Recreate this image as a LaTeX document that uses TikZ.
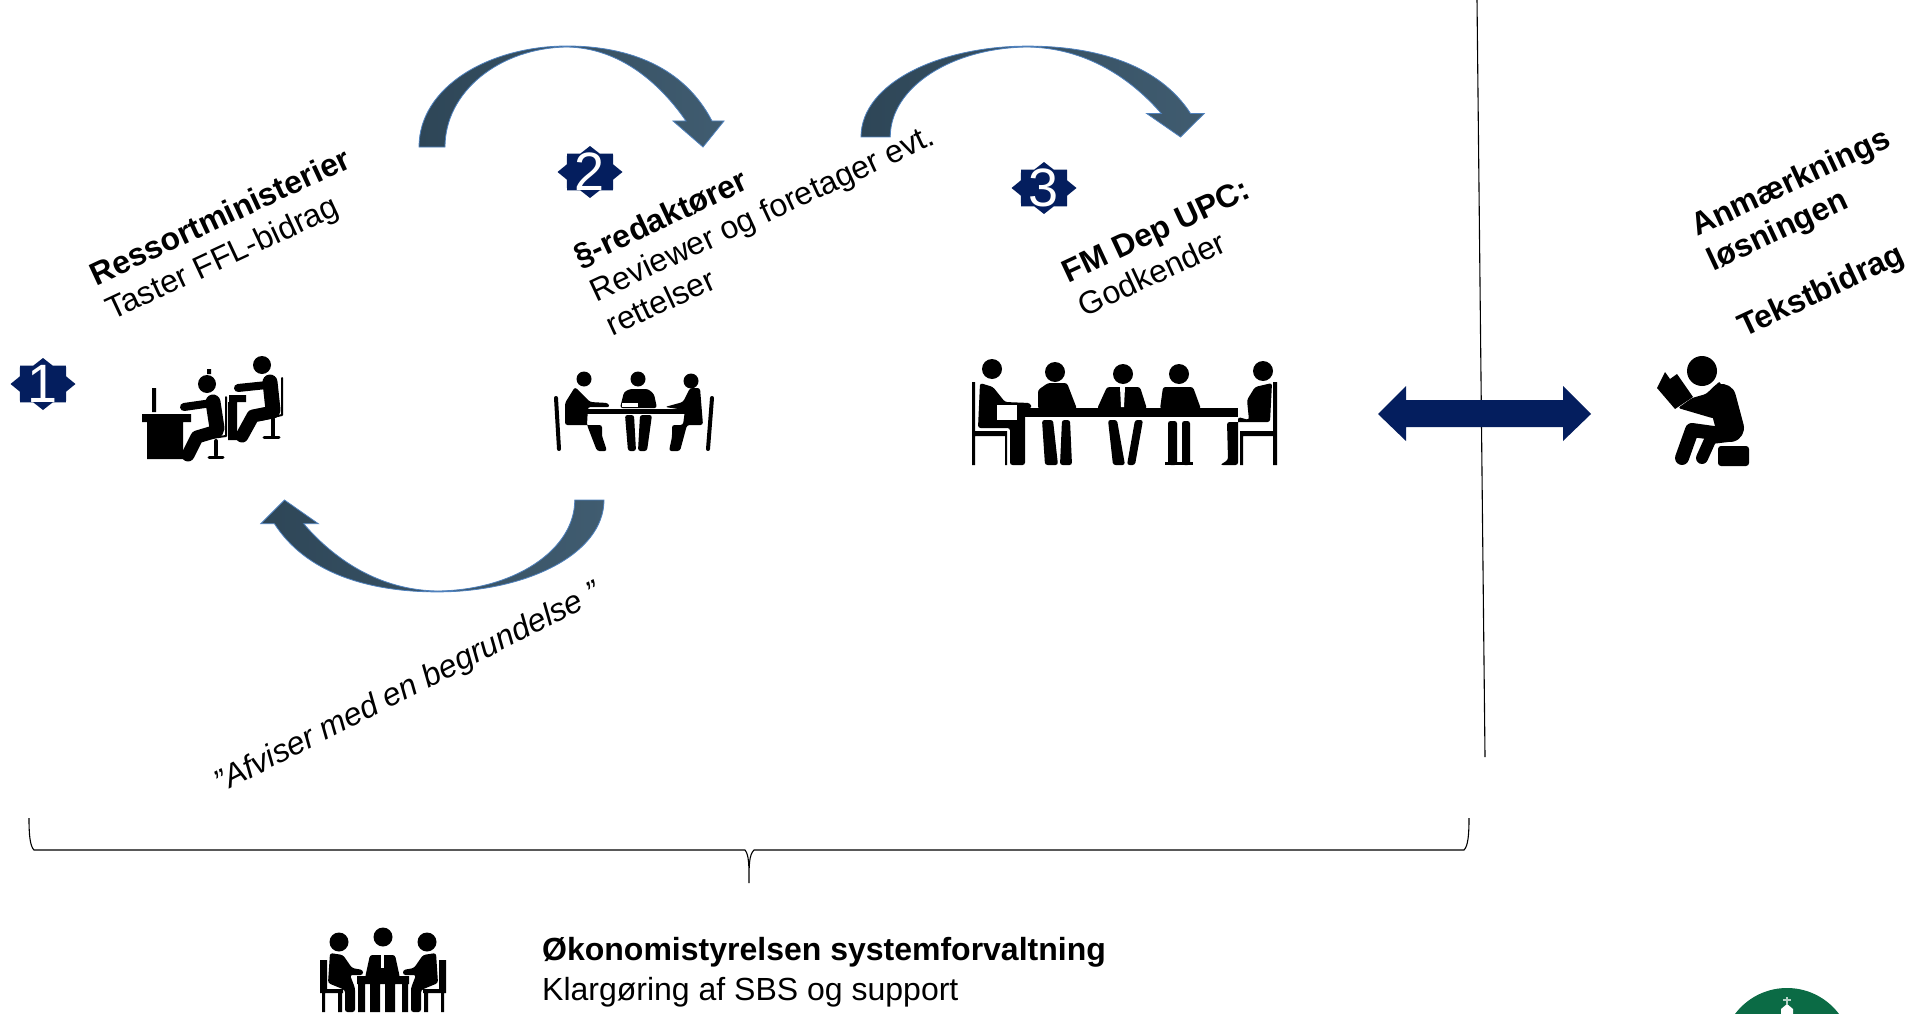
\documentclass[tikz,border=0pt]{standalone}
\usepackage{fontspec}
\setmainfont{Liberation Sans}
\usetikzlibrary{shapes.geometric}
\definecolor{navy}{HTML}{041E5E}
\definecolor{bowdark}{HTML}{2E4657}
\definecolor{bowlight}{HTML}{405C70}
\definecolor{bowedge}{HTML}{4F81BD}
\definecolor{crest}{HTML}{0B6B45}
\tikzset{
  numstar/.style={star,star points=8,star point ratio=1.3,fill=navy,minimum size=65pt,inner sep=0pt,yscale=.8,transform shape},
  numtext/.style={text=white,inner sep=0pt,font=\fontsize{54}{54}\selectfont},
  tilted/.style={rotate=25,anchor=south west,align=left,inner sep=0pt,font=\fontsize{32}{38}\selectfont},
  bowarrow/.pic={
    \path[left color=bowdark,right color=bowlight,draw=bowedge,line width=.8pt]
      (0,0) .. controls (0,-60) and (70,-101) .. (148,-101)
      .. controls (210,-101) and (265,-80) .. (293,-26) -- (305,-26) -- (284,0) -- (254,-26) -- (267,-26)
      .. controls (240,-65) and (200,-99) .. (148,-100)
      .. controls (80,-99) and (26,-55) .. (26,0) -- cycle;
  },
  sil/.style={rounded corners=2.5pt},
}
\newcommand{\head}[3]{\fill (#1,#2) circle (#3);}
\begin{document}
\begin{tikzpicture}[x=1pt,y=-1pt]
\useasboundingbox (0,0) rectangle (1913,1014);
% curved arrows
\pic at (419,147) {bowarrow};
\pic[xscale=1.125,yscale=.9] at (861,137) {bowarrow};
\pic[rotate=180,xscale=1.125,yscale=.91] at (604,500) {bowarrow};
% divider and double arrow
\coordinate (linetop) at (1477,0);
\coordinate (linebot) at (1485,757);
\draw[line width=1.1pt] (linetop) -- (linebot);
\fill[navy] (1378,414) -- (1406,386) -- (1406,400) -- (1563,400) -- (1563,386) -- (1591,414)
  -- (1563,441) -- (1563,427) -- (1406,427) -- (1406,441) -- cycle;
% brace
\coordinate (braceleft) at (29,818);
\coordinate (braceright) at (1469,818);
\coordinate (bracetip) at (749,883);
\draw[line width=1.1pt] (braceleft) .. controls (29,835) and (30,846) .. (34,850) -- (745,850)
  .. controls (749,855) and (749,865) .. (bracetip)
  .. controls (749,865) and (749,855) .. (754,850) -- (1464,850)
  .. controls (1468,846) and (1469,835) .. (braceright);
% numbers
\node[numstar] (starone) at (43,384) {};
\node[numtext] (one) at (starone) {1};
\node[numstar] (startwo) at (590,172) {};
\node[numtext] (two) at (startwo) {2};
\node[numstar] (starthree) at (1044,188) {};
\node[numtext] (three) at (starthree) {3};
% labels
\node[tilted] (ressort) at (115,327) {\textbf{Ressortministerier}\\Taster FFL-bidrag};
\node[tilted] (redaktor) at (613,337) {\textbf{§-redaktører}\\Reviewer og foretager evt.\\rettelser};
\node[tilted] (fmdep) at (1085,318) {\textbf{FM Dep UPC:}\\Godkender};
\node[tilted] (anm) at (1747,344) {\textbf{Anmærknings}\\\textbf{løsningen}\\[1.1em]\textbf{Tekstbidrag}};
\node[tilted,rotate=2] (afviser) at (224,800) {\textit{”Afviser med en begrundelse ”}};
\node[anchor=north west,inner sep=0pt,align=left,font=\fontsize{32}{40}\selectfont] (oko) at (542,937)
  {\textbf{Økonomistyrelsen systemforvaltning}\\Klargøring af SBS og support};
% desk workers
\head{207}{384}{9}
\head{262}{365}{9}
\fill (207,369) rectangle (211,374) (152,388) rectangle (156,412) (142,414) rectangle (191,422) (147,422) rectangle (183,459)
  (229,395) rectangle (246,402) (228,402) rectangle (237,440);
\begin{scope}[line cap=round,line join=round]
\draw[line width=8pt] (184,407) -- (212,403) (238,388) -- (267,385);
\draw[line width=15pt] (213,402) -- (217,428) (270,382) -- (273,410);
\draw[line width=13pt] (217,431) -- (197,437) -- (188,455) (273,412) -- (253,416) -- (242,436);
\draw[line width=2pt] (226,397) -- (226,436) -- (204,439) (282,378) -- (282,415) -- (260,420);
\draw[line width=4pt] (216,441) -- (216,455) (273,419) -- (273,436);
\draw[line width=3pt] (209,457) -- (223,457) (264,437) -- (279,437);
\end{scope}
% small meeting
\head{584}{379}{7.5}
\head{638}{379}{7.5}
\head{691}{381}{7.5}
\fill[sil] (575,387) -- (565,403) -- (565,425) -- (602,425) -- (602,436) -- (607,451) -- (597,451) -- (587,425) -- (588,407) -- (610,407) -- (608,403) -- (590,402) -- cycle;
\fill[sil] (620,408) -- (624,392) -- (630,389) -- (648,389) -- (654,394) -- (657,408) -- cycle
  (625,415) -- (634,415) -- (636,451) -- (628,451) -- cycle (640,415) -- (652,415) -- (647,451) -- (638,451) -- cycle;
\fill[white] (622,403) rectangle (638,407);
\fill[sil] (690,388) -- (700,388) -- (703,425) -- (687,425) -- (680,451) -- (669,451) -- (672,437) -- (672,425) -- (683,425) -- (685,410) -- (665,407) -- (683,402) -- cycle;
\fill (584,409) rectangle (687,414);
\draw[line width=4pt,line cap=round] (556,398) -- (559,449) (712,398) -- (708,449);
% large meeting
\head{992}{369}{10}
\head{1055}{372}{10}
\head{1123}{374}{10}
\head{1179}{374}{10}
\head{1263}{371}{10}
\fill (1025,408) rectangle (1238,417);
\fill[sil] (980,383) -- (993,387) -- (1005,402) -- (1030,403) -- (1032,408) -- (1025,408) -- (1025,465) -- (1010,465) -- (1010,428) -- (978,428) -- cycle;
\fill[white] (997,405) rectangle (1017,420);
\fill (972,382) rectangle (975,465) (975,431) rectangle (1007,436) (1005,433) rectangle (1007,465);
\fill[sil] (1038,409) -- (1038,390) -- (1048,383) -- (1067,383) -- (1077,409) -- cycle
  (1042,420) -- (1053,420) -- (1058,465) -- (1045,465) -- cycle (1062,420) -- (1070,420) -- (1072,465) -- (1060,465) -- cycle;
\fill[sil] (1097,409) -- (1107,387) -- (1140,387) -- (1147,409) -- cycle
  (1108,420) -- (1117,420) -- (1125,465) -- (1113,465) -- cycle (1135,420) -- (1143,420) -- (1135,465) -- (1127,465) -- cycle;
\fill[white] (1120,387) -- (1125,387) -- (1124,407) -- (1121,407) -- cycle;
\fill[sil] (1160,409) -- (1163,387) -- (1193,387) -- (1201,409) -- cycle
  (1168,421) rectangle (1177,465) (1182,421) rectangle (1190,465);
\fill (1165,462) rectangle (1193,465);
\fill[sil] (1255,387) -- (1272,383) -- (1270,422) -- (1227,422) -- (1228,460) -- (1220,465) -- (1238,465) -- (1238,417) -- (1249,420) -- (1247,400) -- cycle;
\fill (1273,382) rectangle (1277,465) (1240,431) rectangle (1275,436) (1240,433) rectangle (1243,465);
% reader
\head{1702}{371}{15}
\fill (1657,388) -- (1665,372) -- (1670,379) -- (1677,374) -- (1693,397) -- (1675,409) -- cycle;
\fill[sil] (1692,398) -- (1706,394) -- (1720,381) -- (1728,420) -- (1712,418) -- (1678,408) -- cycle;
\begin{scope}[line cap=round,line join=round]
\draw[line width=28pt] (1722,398) -- (1730,428);
\draw[line width=14pt] (1682,458) -- (1692,430) -- (1728,435);
\draw[line width=12pt] (1702,458) -- (1711,438) -- (1728,436);
\end{scope}
\fill[rounded corners=3pt] (1718,446) rectangle (1749,466);
% bottom meeting
\head{339}{942}{9.5}
\head{383}{937}{9.5}
\head{427}{942}{9.5}
\fill (357,976) rectangle (409,984)
  (358,984) rectangle (365,1012) (402,984) rectangle (408,1012) (370,978) rectangle (380,1012) (385,978) rectangle (395,1012);
\fill[sil] (365,978) -- (370,955) -- (395,955) -- (400,978) -- cycle;
\fill[white] (381,948) rectangle (384,968);
\foreach \s in {1,-1} {
\begin{scope}[xshift=383pt,xscale=\s]
\fill[sil] (-53,953) -- (-40,955) -- (-31,968) -- (-20,970) -- (-20,975) -- (-33,975) -- (-28,988) -- (-28,1012) -- (-38,1012) -- (-38,990) -- (-55,983) -- cycle;
\fill (-63,960) rectangle (-56,993) (-63,989) rectangle (-40,993) (-61,993) rectangle (-58,1012) (-45,993) rectangle (-41,1012);
\end{scope}
}
% crest
\begin{scope}
\clip (0,0) rectangle (1913,1014);
\fill[crest] (1787,1053) circle (65);
\fill[white] (1781,1014) -- (1781,1009) -- (1787,1004) -- (1793,1009) -- (1793,1014) -- cycle;
\draw[white!70!crest,line width=1.5pt] (1787,997) -- (1787,1004) (1783,1000) -- (1791,1000);
\end{scope}
\end{tikzpicture}
\end{document}
